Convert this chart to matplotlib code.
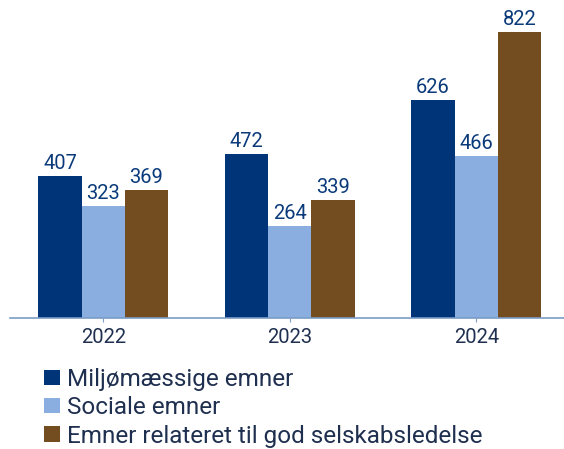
import matplotlib
matplotlib.use("Agg")
import matplotlib.pyplot as plt
import numpy as np

years = ["2022", "2023", "2024"]
series_names = ["Miljømæssige emner", "Sociale emner", "Emner relateret til god selskabsledelse"]
miljo = [407, 472, 626]
sociale = [323, 264, 466]
ledelse = [369, 339, 822]
colors = ["#003478", "#8aaee0", "#734c20"]

plt.rcParams['font.family'] = ['Roboto', 'DejaVu Sans']

fig = plt.figure(figsize=(5.64, 4.49), dpi=100)
ax = fig.add_axes([10/564, 1-318/449, 1-10/564, (318-5)/449])

x = np.arange(len(years))
w = 0.232
handles = []
for i, (vals, c, name) in enumerate(zip([miljo, sociale, ledelse], colors, series_names)):
    bars = ax.bar(x + (i-1)*w, vals, width=w, color=c, label=name)
    handles.append(bars)
    for b, v in zip(bars, vals):
        ax.text(b.get_x()+b.get_width()/2, v+9, str(v), ha='center', va='bottom',
                fontsize=14.5, color='#0a3a7a')

ax.set_xlim(-0.5, 2.47)
ax.set_ylim(0, 900)
ax.set_yticks([])
ax.set_xticks(x)
ax.set_xticklabels(years, fontsize=14.5, color='#1f2f4f')
ax.tick_params(axis='x', length=3, color='#7a9cc6', pad=4)
for s in ['top', 'right', 'left']:
    ax.spines[s].set_visible(False)
ax.spines['bottom'].set_color('#7a9cc6')
ax.spines['bottom'].set_linewidth(1.2)

fig.legend(handles=handles, labels=series_names, loc='upper left',
           bbox_to_anchor=(44/564, 1-368/449), frameon=False, fontsize=17.5,
           handlelength=0.66, handleheight=0.6, handletextpad=0.3,
           labelspacing=0.22, labelcolor='#1f2f4f', borderaxespad=0, borderpad=0)

fig.savefig("out.png", dpi=100)
